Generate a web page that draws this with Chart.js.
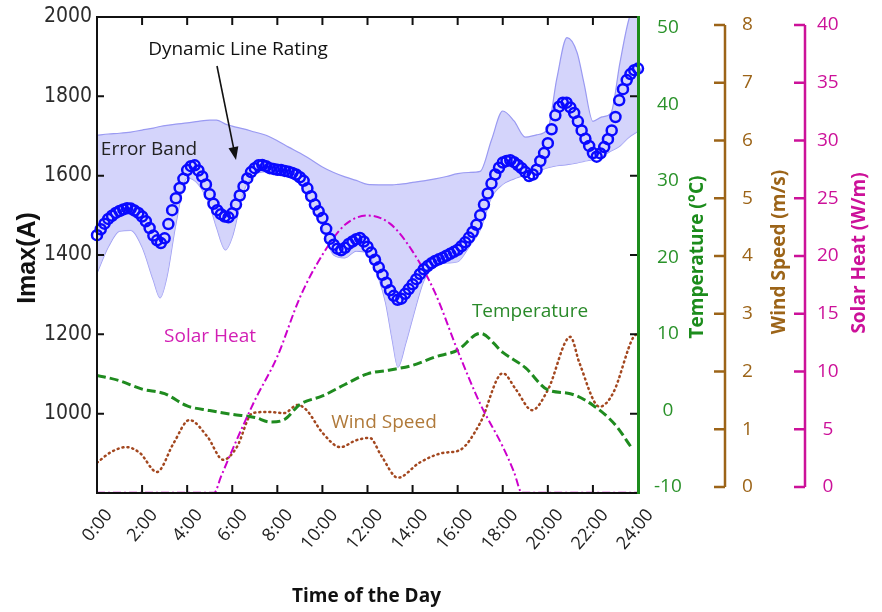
<!DOCTYPE html>
<html>
<head>
<meta charset="utf-8">
<title>Dynamic Line Rating</title>
<script src="https://cdn.jsdelivr.net/npm/chart.js@4.4.1/dist/chart.umd.min.js"></script>
<style>
    html, body { margin: 0; padding: 0; background: #ffffff; }
    #wrap { width: 882px; height: 612px; }
</style>
</head>
<body>
<div id="wrap"><canvas id="dlrChart" width="882" height="612"></canvas></div>
<script>
(function () {
    'use strict';

    // Dynamic line rating Imax (A), one reading every 10 minutes from 0:00 to 24:00
    var dlrStep = 1 / 6;
    var dlrValues = [
        1450, 1465, 1479, 1491, 1499, 1506,   // 0h
        1511, 1515, 1518, 1517, 1512, 1506,   // 1h
        1497, 1485, 1468, 1449, 1437, 1430,   // 2h
        1442, 1478, 1513, 1543, 1569, 1592,   // 3h
        1614, 1624, 1626, 1613, 1598, 1578,   // 4h
        1553, 1529, 1513, 1503, 1497, 1495,   // 5h
        1505, 1527, 1550, 1573, 1593, 1609,   // 6h
        1619, 1626, 1627, 1624, 1619, 1617,   // 7h
        1615, 1614, 1612, 1610, 1607, 1603,   // 8h
        1596, 1587, 1568, 1548, 1527, 1510,   // 9h
        1493, 1466, 1441, 1426, 1416, 1412,   // 10h
        1418, 1428, 1434, 1440, 1443, 1434,   // 11h
        1421, 1406, 1388, 1369, 1350, 1330,   // 12h
        1311, 1297, 1287, 1290, 1302, 1314,   // 13h
        1326, 1339, 1352, 1364, 1372, 1379,   // 14h
        1385, 1389, 1393, 1398, 1403, 1408,   // 15h
        1413, 1422, 1432, 1444, 1458, 1476,   // 16h
        1500, 1527, 1555, 1580, 1603, 1620,   // 17h
        1633, 1637, 1639, 1634, 1627, 1619,   // 18h
        1609, 1599, 1603, 1615, 1637, 1657,   // 19h
        1682, 1717, 1752, 1774, 1784, 1784,   // 20h
        1772, 1758, 1737, 1714, 1693, 1675,   // 21h
        1657, 1648, 1656, 1672, 1692, 1714,   // 22h
        1748, 1790, 1818, 1841, 1856, 1866,   // 23h
        1870
    ];

    // Error band (A)
    var bandHours = [0, 0.5, 1, 1.5, 2, 2.5, 2.8, 3.1, 3.5, 4, 4.5, 5, 5.3, 5.7, 6, 6.5, 7, 7.5, 8, 8.5,
        9, 9.5, 10, 10.5, 11, 11.5, 12, 12.5, 12.8, 13.1, 13.35, 13.7, 14, 14.5, 15, 15.5, 16, 16.5,
        17, 17.5, 18, 18.5, 19, 19.5, 20, 20.4, 20.85, 21.3, 21.6, 22, 22.4, 22.8, 23.2, 23.6, 24];
    var bandUpper = [1702, 1705, 1707, 1710, 1715, 1720, 1724, 1727, 1730, 1733, 1737, 1740, 1740, 1730,
        1725, 1718, 1710, 1702, 1688, 1672, 1657, 1640, 1622, 1608, 1597, 1588, 1578, 1577, 1577, 1577,
        1578, 1580, 1583, 1587, 1592, 1598, 1605, 1608, 1611, 1690, 1763, 1738, 1697, 1703, 1718, 1845,
        1948, 1910, 1834, 1737, 1748, 1758, 1885, 1995, 2040];
    var bandLower = [1354, 1420, 1460, 1462, 1420, 1336, 1292, 1344, 1478, 1595, 1578, 1525, 1470, 1413,
        1445, 1560, 1603, 1610, 1605, 1598, 1580, 1525, 1470, 1400, 1393, 1410, 1405, 1340, 1280, 1185,
        1117, 1178, 1240, 1335, 1373, 1380, 1383, 1420, 1463, 1545, 1578, 1592, 1602, 1610, 1620, 1625,
        1628, 1632, 1636, 1641, 1650, 1662, 1675, 1697, 1712];

    // Temperature (deg C)
    var tempHours = [0, 1, 2, 3, 4, 5, 6, 7, 7.7, 8.3, 9, 10, 11, 12, 13, 14, 15, 16, 17, 18, 19, 20, 21, 22, 23, 23.7];
    var tempValues = [4.6, 3.9, 2.8, 2.2, 0.6, 0.0, -0.5, -0.9, -1.5, -1.2, 0.8, 1.9, 3.4, 4.8, 5.3, 5.9, 7.0, 7.9,
        10.1, 7.6, 5.6, 2.7, 2.2, 0.7, -1.9, -4.8];

    // Wind speed (m/s)
    var windHours = [0, 0.6, 1.3, 1.9, 2.66, 3.4, 4.1, 4.9, 5.6, 6.2, 6.9, 7.6, 8.3, 8.9, 9.3, 10, 10.8, 11.5,
        12.1, 12.6, 13.35, 14.3, 15.35, 16.1, 17, 18, 18.6, 19.3, 20, 21, 21.4, 22.3, 22.9, 23.8, 24];
    var windValues = [0.42, 0.6, 0.69, 0.59, 0.26, 0.76, 1.16, 0.87, 0.47, 0.69, 1.28, 1.3, 1.28, 1.42, 1.33,
        0.94, 0.69, 0.81, 0.85, 0.55, 0.16, 0.42, 0.59, 0.64, 1.11, 1.97, 1.68, 1.33, 1.68, 2.6, 2.15, 1.39,
        1.63, 2.6, 2.65];

    // Solar heat (W/m)
    var solarHours = [0, 5.2, 5.5, 6, 6.5, 7, 8, 9, 10, 11, 12, 13, 14, 15, 16, 17, 18, 18.5, 18.85, 24];
    var solarValues = [-0.5, -0.5, 0.9, 3.2, 5.4, 7.5, 11.3, 16.4, 20.1, 22.7, 23.5, 22.8, 20.4, 16.8, 11.8,
        7.2, 3.5, 1.3, -0.5, -0.5];

    var timeTickLabels = ['0:00', '2:00', '4:00', '6:00', '8:00', '10:00', '12:00',
        '14:00', '16:00', '18:00', '20:00', '22:00', '24:00'];

    var GREEN = '#1c8c1c';
    var GREEN_TEXT = '#2a922a';
    var BROWN = '#9c6418';
    var MAGENTA = '#cc1199';
    var NUM_FONT = '"DejaVu Sans Condensed", "Liberation Sans Narrow", Arial, sans-serif';
    var TEXT_FONT = '"Open Sans", "Noto Sans", sans-serif';

    function pairs(xs, ys) {
        return xs.map(function (x, i) { return { x: x, y: ys[i] }; });
    }

    var dlrPoints = dlrValues.map(function (v, i) { return { x: i * dlrStep, y: v }; });

    // fixed box sizes, and no extra padding from the tick labels
    function fixWidth(w) {
        return function (scale) {
            scale.width = w;
            scale.paddingTop = 0;
            scale.paddingBottom = 0;
        };
    }

    function sideAxis(scale, color) {
        var c = scale.ctx;
        var x = scale.left;
        var first = scale.getPixelForValue(scale.ticks[0].value);
        var last = scale.getPixelForValue(scale.ticks[scale.ticks.length - 1].value);
        c.strokeStyle = color;
        c.lineWidth = 2.5;
        c.beginPath();
        c.moveTo(x, first);
        c.lineTo(x, last);
        scale.ticks.forEach(function (t) {
            var py = scale.getPixelForValue(t.value);
            c.moveTo(x - 11, py);
            c.lineTo(x, py);
        });
        c.stroke();
    }

    function text(c, str, x, y, font, color, angle) {
        c.save();
        c.translate(x, y);
        if (angle) c.rotate(angle);
        c.font = font;
        c.fillStyle = color;
        c.textAlign = 'center';
        c.textBaseline = 'middle';
        c.fillText(str, 0, 0);
        c.restore();
    }

    var framePlugin = {
        id: 'frame',
        afterDraw: function (chart) {
            var c = chart.ctx;
            var a = chart.chartArea;
            var xs = chart.scales.x;
            var ys = chart.scales.y;
            c.save();

            // black frame with inward ticks
            c.strokeStyle = '#111';
            c.lineWidth = 2;
            c.beginPath();
            c.moveTo(a.right, a.top);
            c.lineTo(a.left, a.top);
            c.lineTo(a.left, a.bottom);
            c.lineTo(a.right, a.bottom);
            xs.ticks.forEach(function (t) {
                if (t.value <= 0 || t.value >= 24) return;
                var px = xs.getPixelForValue(t.value);
                c.moveTo(px, a.bottom);
                c.lineTo(px, a.bottom - 8);
                c.moveTo(px, a.top);
                c.lineTo(px, a.top + 8);
            });
            ys.ticks.forEach(function (t) {
                if (t.value <= 800 || t.value >= 2000) return;
                var py = ys.getPixelForValue(t.value);
                c.moveTo(a.left, py);
                c.lineTo(a.left + 7, py);
                c.moveTo(a.right, py);
                c.lineTo(a.right - 8, py);
            });
            c.stroke();

            // temperature axis line
            c.strokeStyle = GREEN;
            c.lineWidth = 3;
            c.beginPath();
            c.moveTo(a.right + 0.5, a.top - 1);
            c.lineTo(a.right + 0.5, a.bottom + 1);
            c.stroke();

            sideAxis(chart.scales.yWind, BROWN);
            sideAxis(chart.scales.ySolar, MAGENTA);

            // axis titles
            var tScale = chart.scales.yTemp;
            var wScale = chart.scales.yWind;
            var sScale = chart.scales.ySolar;
            var titleFont = 'bold 19px ' + TEXT_FONT;
            text(c, 'Imax(A)', 28, 258, 'bold 25px "Liberation Sans", Arial, sans-serif', '#111', -Math.PI / 2);
            text(c, 'Time of the Day', (a.left + a.right) / 2 - 1, 597, titleFont, '#111', 0);
            text(c, 'Temperature (\u00B0C)', tScale.left + 60, 257, titleFont, GREEN, -Math.PI / 2);
            text(c, 'Wind Speed (m/s)', wScale.left + 55, 252, titleFont, BROWN, -Math.PI / 2);
            text(c, 'Solar Heat (W/m)', sScale.left + 55, 253, titleFont, MAGENTA, -Math.PI / 2);

            // annotations
            var noteFont = '19px ' + TEXT_FONT;
            text(c, 'Dynamic Line Rating', 238, 50, noteFont, '#111', 0);
            text(c, 'Error Band', 149, 150, noteFont, '#222', 0);
            text(c, 'Solar Heat', 210, 337, noteFont, '#d21fb4', 0);
            text(c, 'Temperature', 530, 312, noteFont, '#2a8a2a', 0);
            text(c, 'Wind Speed', 384, 423, noteFont, '#b07a3a', 0);

            // arrow to the DLR curve
            var x0 = 217, y0 = 66, x1 = 236, y1 = 160;
            var ang = Math.atan2(y1 - y0, x1 - x0);
            c.strokeStyle = '#111';
            c.fillStyle = '#111';
            c.lineWidth = 1.6;
            c.beginPath();
            c.moveTo(x0, y0);
            c.lineTo(x1 - 10 * Math.cos(ang), y1 - 10 * Math.sin(ang));
            c.stroke();
            c.beginPath();
            c.moveTo(x1, y1);
            c.lineTo(x1 - 13 * Math.cos(ang) + 5 * Math.sin(ang), y1 - 13 * Math.sin(ang) - 5 * Math.cos(ang));
            c.lineTo(x1 - 13 * Math.cos(ang) - 5 * Math.sin(ang), y1 - 13 * Math.sin(ang) + 5 * Math.cos(ang));
            c.closePath();
            c.fill();

            c.restore();
        }
    };

    var ctx = document.getElementById('dlrChart');
    new Chart(ctx, {
        type: 'line',
        data: {
            datasets: [{
                label: 'Dynamic Line Rating',
                data: dlrPoints,
                yAxisID: 'y',
                showLine: false,
                pointStyle: 'circle',
                pointRadius: 5,
                pointBorderWidth: 2.5,
                pointBorderColor: '#0a0aff',
                pointBackgroundColor: 'rgba(0, 0, 0, 0)',
                borderColor: '#0a0aff',
                clip: 8
            }, {
                label: 'Solar Heat',
                data: pairs(solarHours, solarValues),
                yAxisID: 'ySolar',
                borderColor: '#cc00cc',
                borderWidth: 2,
                borderDash: [8, 3, 2, 3],
                pointRadius: 0,
                cubicInterpolationMode: 'monotone',
                clip: 4
            }, {
                label: 'Temperature',
                data: pairs(tempHours, tempValues),
                yAxisID: 'yTemp',
                borderColor: '#1f8b1f',
                borderWidth: 3,
                borderDash: [9, 4],
                pointRadius: 0,
                cubicInterpolationMode: 'monotone'
            }, {
                label: 'Wind Speed',
                data: pairs(windHours, windValues),
                yAxisID: 'yWind',
                borderColor: '#a3471f',
                borderWidth: 2.5,
                borderDash: [1, 4],
                borderCapStyle: 'round',
                pointRadius: 0,
                cubicInterpolationMode: 'monotone'
            }, {
                label: 'Error Band upper',
                data: pairs(bandHours, bandUpper),
                yAxisID: 'y',
                borderColor: '#9a9af2',
                borderWidth: 1.2,
                backgroundColor: 'rgba(205, 205, 250, 0.85)',
                fill: '+1',
                pointRadius: 0,
                cubicInterpolationMode: 'monotone'
            }, {
                label: 'Error Band lower',
                data: pairs(bandHours, bandLower),
                yAxisID: 'y',
                borderColor: '#9a9af2',
                borderWidth: 1.2,
                fill: false,
                pointRadius: 0,
                cubicInterpolationMode: 'monotone'
            }]
        },
        options: {
            responsive: false,
            animation: false,
            layout: { padding: { top: 17, left: 0, right: 0, bottom: 0 } },
            plugins: {
                legend: { display: false },
                tooltip: { enabled: false }
            },
            scales: {
                x: {
                    type: 'linear',
                    position: 'bottom',
                    min: 0,
                    max: 24,
                    afterFit: function (scale) {
                        scale.height = 119;
                        scale.paddingLeft = 0;
                        scale.paddingRight = 0;
                    },
                    grid: { display: false, drawTicks: false },
                    border: { display: false },
                    ticks: {
                        stepSize: 2,
                        autoSkip: false,
                        minRotation: 50,
                        maxRotation: 50,
                        padding: 12,
                        labelOffset: 12,
                        color: '#222',
                        font: { family: TEXT_FONT, size: 18 },
                        callback: function (value, index) { return timeTickLabels[index]; }
                    }
                },
                y: {
                    position: 'left',
                    min: 800,
                    max: 2000,
                    afterFit: fixWidth(97),
                    grid: { display: false, drawTicks: false },
                    border: { display: false },
                    ticks: {
                        stepSize: 200,
                        padding: 5,
                        color: '#2b2b2b',
                        font: { family: NUM_FONT, size: 21 },
                        callback: function (value) { return value === 800 ? '' : value; }
                    }
                },
                yTemp: {
                    position: 'right',
                    min: -10.78,
                    max: 51.44,
                    afterFit: fixWidth(87),
                    grid: { display: false, drawTicks: false },
                    border: { display: false },
                    ticks: {
                        stepSize: 10,
                        includeBounds: false,
                        crossAlign: 'center',
                        padding: 16,
                        color: GREEN_TEXT,
                        font: { family: TEXT_FONT, size: 19 }
                    }
                },
                yWind: {
                    position: 'right',
                    min: -0.104,
                    max: 8.139,
                    afterFit: fixWidth(80),
                    grid: { display: false, drawTicks: false },
                    border: { display: false },
                    ticks: {
                        stepSize: 1,
                        includeBounds: false,
                        crossAlign: 'center',
                        padding: 17,
                        color: BROWN,
                        font: { family: TEXT_FONT, size: 19 }
                    }
                },
                ySolar: {
                    position: 'right',
                    min: -0.52,
                    max: 40.69,
                    afterFit: fixWidth(77),
                    grid: { display: false, drawTicks: false },
                    border: { display: false },
                    ticks: {
                        stepSize: 5,
                        includeBounds: false,
                        crossAlign: 'center',
                        padding: 12,
                        color: MAGENTA,
                        font: { family: TEXT_FONT, size: 19 }
                    }
                }
            }
        },
        plugins: [framePlugin]
    });
})();
</script>
</body>
</html>
